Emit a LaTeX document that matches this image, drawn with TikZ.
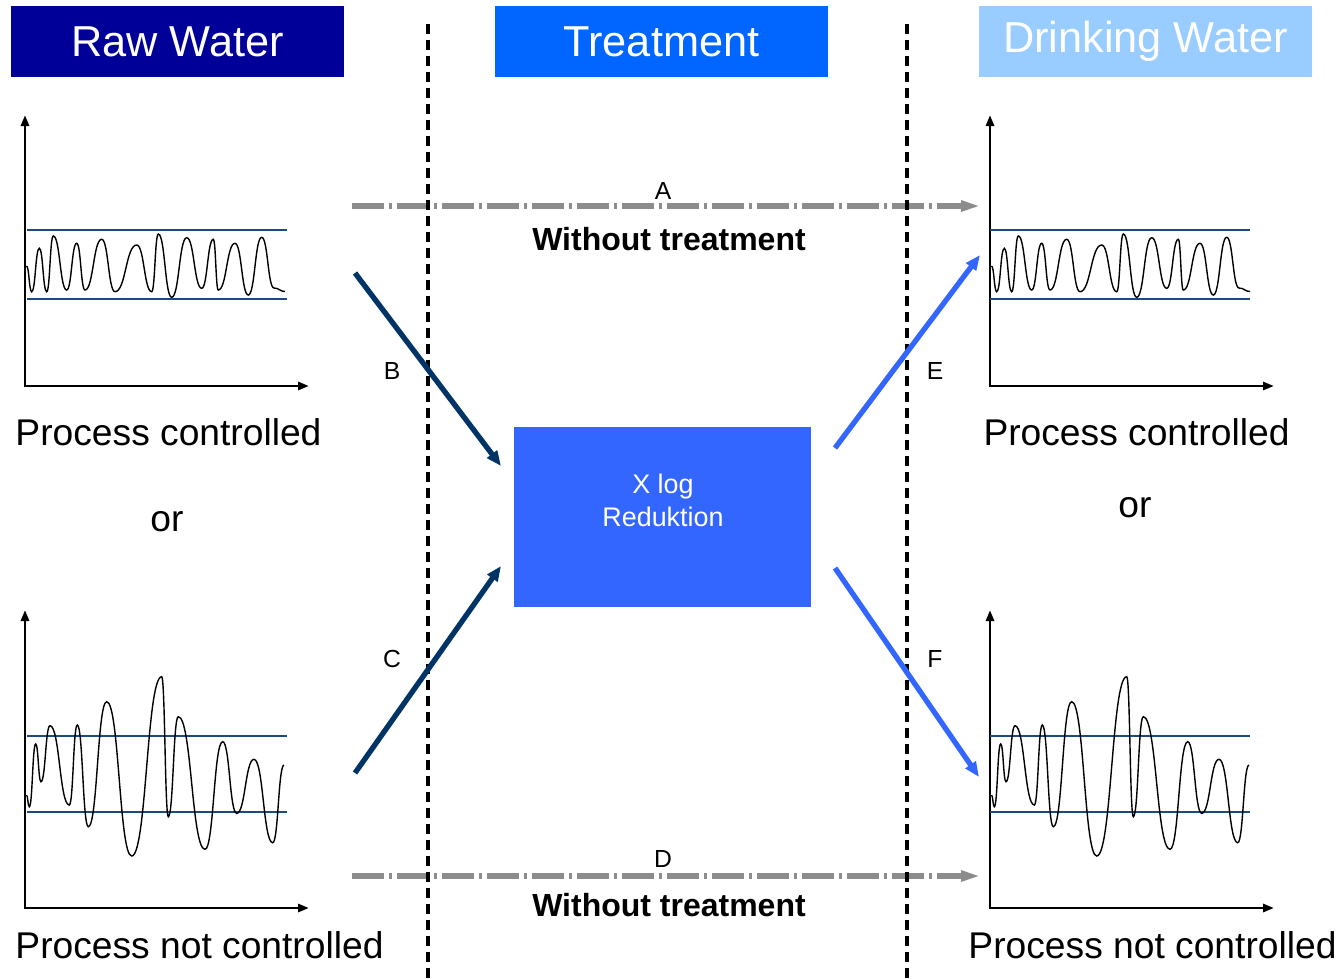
\documentclass[tikz,border=0pt]{standalone}
\usepackage{fontspec}
\setmainfont{Liberation Sans}
\usetikzlibrary{arrows.meta}
\definecolor{rawblue}{HTML}{000099}
\definecolor{treatblue}{HTML}{0066FF}
\definecolor{drinkblue}{HTML}{99CCFF}
\definecolor{boxblue}{HTML}{3366FF}
\definecolor{navy}{HTML}{003366}
\definecolor{bandblue}{HTML}{1A4A80}
\definecolor{midgray}{HTML}{8C8C8C}
\newcommand\wavecurve[3]{%
  \draw[wave] (#1,#2) \foreach \x/\y [remember=\x as \px (initially #1)] in {#3}
    { .. controls +({0.5*(\x-\px)},0) and +({-0.5*(\x-\px)},0) .. (\x,\y) };}
\newcommand\chartaxes[4]{% x0, ytop, ybottom, xend
  \draw[axis] (#1,#2) -- (#1,#3) -- (#4,#3);}
\begin{document}
\begin{tikzpicture}[x=1pt,y=-1pt,
  header/.style={minimum width=333pt, minimum height=71pt, inner sep=0pt, text=white,
    font=\fontsize{43.3}{52}\selectfont},
  caption/.style={anchor=base, inner sep=0pt, font=\fontsize{37.2}{44}\selectfont},
  letter/.style={anchor=base, inner sep=0pt, font=\fontsize{24.7}{30}\selectfont},
  notreat/.style={anchor=base, inner sep=0pt, font=\fontsize{32}{38}\selectfont\bfseries},
  boxtext/.style={anchor=base, inner sep=0pt, text=white, font=\fontsize{26.9}{32}\selectfont},
  bypass/.style={draw=midgray, line width=5.5pt, dash pattern=on 32pt off 5pt on 3pt off 5pt,
    -{Triangle[length=20pt,width=10pt]}},
  separator/.style={draw=black, line width=3.3pt, dash pattern=on 10pt off 6pt},
  inflow/.style={draw=navy, line width=5.3pt, -{Triangle[length=15pt,width=12pt]}},
  outflow/.style={draw=boxblue, line width=5.3pt, -{Triangle[length=15pt,width=12pt]}},
  axis/.style={draw=black, line width=2.8pt, {Triangle[length=11pt,width=8pt]}-{Triangle[length=11pt,width=8pt]}},
  band/.style={draw=bandblue, line width=2.4pt},
  wave/.style={draw=black, line width=1.4pt}
]
\useasboundingbox (0,0) rectangle (1340,978);

% headers
\node[header, fill=rawblue] (raw) at (177.5,41.5) {Raw Water};
\node[header, fill=treatblue] (treat) at (661.5,41.5) {Treatment};
\node[header, fill=drinkblue] (drink) at (1145.5,41.5) {Drinking Water};

% bypass arrows A and D
\coordinate (a1) at (352,206);
\coordinate (a2) at (981,206);
\coordinate (d1) at (352,876);
\coordinate (d2) at (981,876);
\draw[bypass] (a1) -- (a2);
\draw[bypass] (d1) -- (d2);

% separators
\draw[separator] (428,24) -- (428,978);
\draw[separator] (907,24) -- (907,978);

% treatment box
\node[fill=boxblue, minimum width=297pt, minimum height=180pt, inner sep=0pt] (box) at (662.5,517) {};
\node[boxtext] (boxt1) at (663,493) {X log};
\node[boxtext] (boxt2) at (663,526) {Reduktion};

% flow arrows
\coordinate (b1) at (355,273);
\coordinate (b2) at (501,466);
\coordinate (c1) at (355,773);
\coordinate (c2) at (501,566);
\coordinate (e1) at (835,448);
\coordinate (e2) at (980,255);
\coordinate (f1) at (835,568);
\coordinate (f2) at (979,777);
\draw[inflow] (b1) -- (b2);
\draw[inflow] (c1) -- (c2);
\draw[outflow] (e1) -- (e2);
\draw[outflow] (f1) -- (f2);

% letters
\node[letter] (la) at (663,199) {A};
\node[letter] (ld) at (663,867) {D};
\node[letter] (lb) at (392,379) {B};
\node[letter] (lc) at (392,667) {C};
\node[letter] (le) at (935,379) {E};
\node[letter] (lf) at (935,667) {F};

\node[notreat] (wt1) at (669,250) {Without treatment};
\node[notreat] (wt2) at (669,916) {Without treatment};

% charts: left top
\chartaxes{25}{115}{386}{309}
\draw[band] (27,230) -- (287,230);
\draw[band] (27,299) -- (287,299);
\wavecurve{26.5}{266}{31.7/291.7, 39.3/248.3, 46.7/291.7, 53.3/236, 66.7/290, 76.7/243.3, 85/290, 101.7/239.3, 115/291.7, 136.7/245, 151.7/291.7, 158.3/234, 171.7/297.3, 186.7/237.7, 201.7/288.3, 213.3/239.3, 218.3/290, 235/243.3, 248.3/295, 261.7/237.3, 274/288, 285/291.5}

% left bottom
\chartaxes{25}{610}{908}{309}
\draw[band] (27,736) -- (287,736);
\draw[band] (27,812) -- (287,812);
\wavecurve{26.5}{795}{29.3/806.7, 35.7/744, 41/781.7, 50/725.7, 69.3/805, 77.3/725, 88.3/826.7, 106.7/701.7, 131.7/856, 161.7/676.7, 168.3/816.7, 178.3/716.7, 205/849.3, 222.7/741.7, 236.7/813.3, 254/759.3, 272.7/842.7, 284/765}

% right charts
\begin{scope}[shift={(965,0)}]
\chartaxes{25}{115}{386}{309}
\draw[band] (25,230) -- (285,230);
\draw[band] (25,299) -- (285,299);
\wavecurve{26.5}{266}{31.7/291.7, 39.3/248.3, 46.7/291.7, 53.3/236, 66.7/290, 76.7/243.3, 85/290, 101.7/239.3, 115/291.7, 136.7/245, 151.7/291.7, 158.3/234, 171.7/297.3, 186.7/237.7, 201.7/288.3, 213.3/239.3, 218.3/290, 235/243.3, 248.3/295, 261.7/237.3, 274/288, 285/291.5}
\chartaxes{25}{610}{908}{309}
\draw[band] (25,736) -- (285,736);
\draw[band] (25,812) -- (285,812);
\wavecurve{26.5}{795}{29.3/806.7, 35.7/744, 41/781.7, 50/725.7, 69.3/805, 77.3/725, 88.3/826.7, 106.7/701.7, 131.7/856, 161.7/676.7, 168.3/816.7, 178.3/716.7, 205/849.3, 222.7/741.7, 236.7/813.3, 254/759.3, 272.7/842.7, 284/765}
\end{scope}

% captions
\node[caption] (pc1) at (168.5,445) {Process controlled};
\node[caption] (or1) at (167,531) {or};
\node[caption] (pn1) at (199.5,958) {Process not controlled};
\node[caption] (pc2) at (1136.5,445) {Process controlled};
\node[caption] (or2) at (1135,517) {or};
\node[caption] (pn2) at (1152.5,958) {Process not controlled};
\end{tikzpicture}
\end{document}
